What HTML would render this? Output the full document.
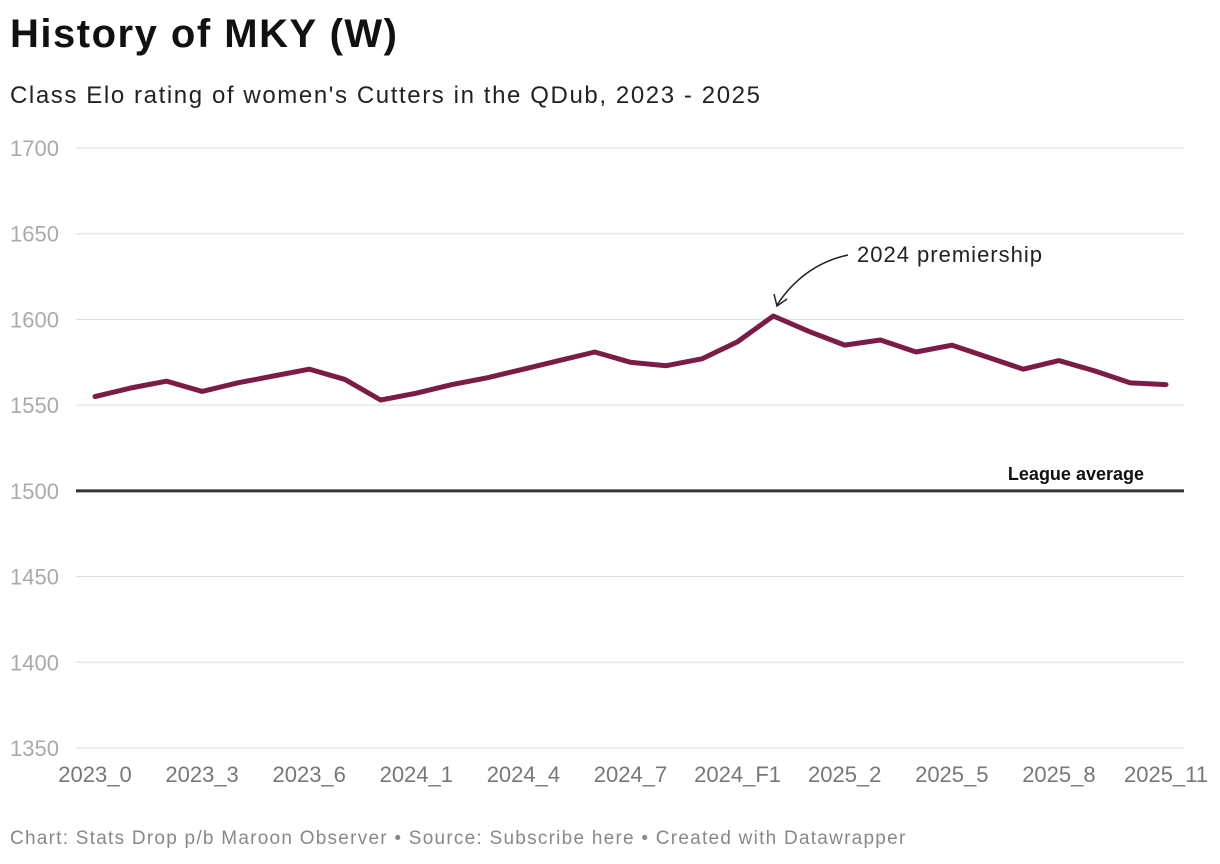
<!DOCTYPE html>
<html><head><meta charset="utf-8">
<style>
body{margin:0;background:#fff;width:1220px;height:864px;overflow:hidden;font-family:"Liberation Sans",sans-serif;}
#title{position:absolute;left:10px;top:12px;font-size:40px;font-weight:bold;color:#111;letter-spacing:1.5px}
#sub{position:absolute;left:10px;top:82px;font-size:24px;color:#222;letter-spacing:1.6px}
#foot{position:absolute;left:10px;top:828px;font-size:19px;color:#888;letter-spacing:1.25px}
svg{position:absolute;left:0;top:0}
</style></head><body>
<div id="title">History of MKY (W)</div>
<div id="sub">Class Elo rating of women's Cutters in the QDub, 2023 - 2025</div>
<div id="foot">Chart: Stats Drop p/b Maroon Observer • Source: Subscribe here • Created with Datawrapper</div>
<svg id="chart" width="1220" height="864"></svg>
<script>
const categories=["2023_0","2023_1","2023_2","2023_3","2023_4","2023_5","2023_6","2023_7","2023_8","2024_1","2024_2","2024_3","2024_4","2024_5","2024_6","2024_7","2024_8","2024_SF","2024_F1","2025_0","2025_1","2025_2","2025_3","2025_4","2025_5","2025_6","2025_7","2025_8","2025_9","2025_10","2025_11"];
const values=[1555,1560,1564,1558,1563,1567,1571,1565,1553,1557,1562,1566,1571,1576,1581,1575,1573,1577,1587,1602,1593,1585,1588,1581,1585,1578,1571,1576,1570,1563,1562];
const yTicks=[1350,1400,1450,1500,1550,1600,1650,1700];
const xLabelEvery=3;
const svg=document.getElementById('chart');const NS='http://www.w3.org/2000/svg';
const X0=95,X1=1166,Y0=748,Y1=148;
const x=i=>X0+(X1-X0)*i/(categories.length-1);
const y=v=>Y0-(v-1350)/(1700-1350)*(Y0-Y1);
function mk(t,a){const e=document.createElementNS(NS,t);for(const k in a)e.setAttribute(k,a[k]);svg.appendChild(e);return e;}
yTicks.forEach(t=>{
 const l=mk('line',{x1:76,x2:1184,y1:y(t),y2:y(t),stroke:t===1500?'#333':'#ddd','stroke-width':t===1500?3:1});
 
 
 const tx=mk('text',{x:10,y:y(t)+8,'font-size':22,fill:'#aaa','font-family':'Liberation Sans'});tx.textContent=t;
 
 
});
categories.forEach((c,i)=>{if(i%xLabelEvery)return;
 const tx=mk('text',{x:x(i),y:782,'font-size':22,fill:'#777','text-anchor':'middle','font-family':'Liberation Sans'});tx.textContent=c;
 
 
});
const la=mk('text',{x:1144,y:480,'font-size':18,'font-weight':'bold',fill:'#111','text-anchor':'end','font-family':'Liberation Sans'});la.textContent='League average';


const p=mk('polyline',{points:values.map((v,i)=>x(i)+','+y(v)).join(' '),fill:'none',stroke:'#7b1c47','stroke-width':5,'stroke-linejoin':'round','stroke-linecap':'round'});


const a=mk('path',{d:'M848,255 C815,262 792,282 777,305',fill:'none',stroke:'#222','stroke-width':1.5});


const ah=mk('path',{d:'M774,294 L777,306 L787,299',fill:'none',stroke:'#222','stroke-width':1.5});


const at=mk('text',{x:857,y:262,'font-size':22,fill:'#222','font-family':'Liberation Sans','letter-spacing':1});at.textContent='2024 premiership';


</script>
</body></html>
